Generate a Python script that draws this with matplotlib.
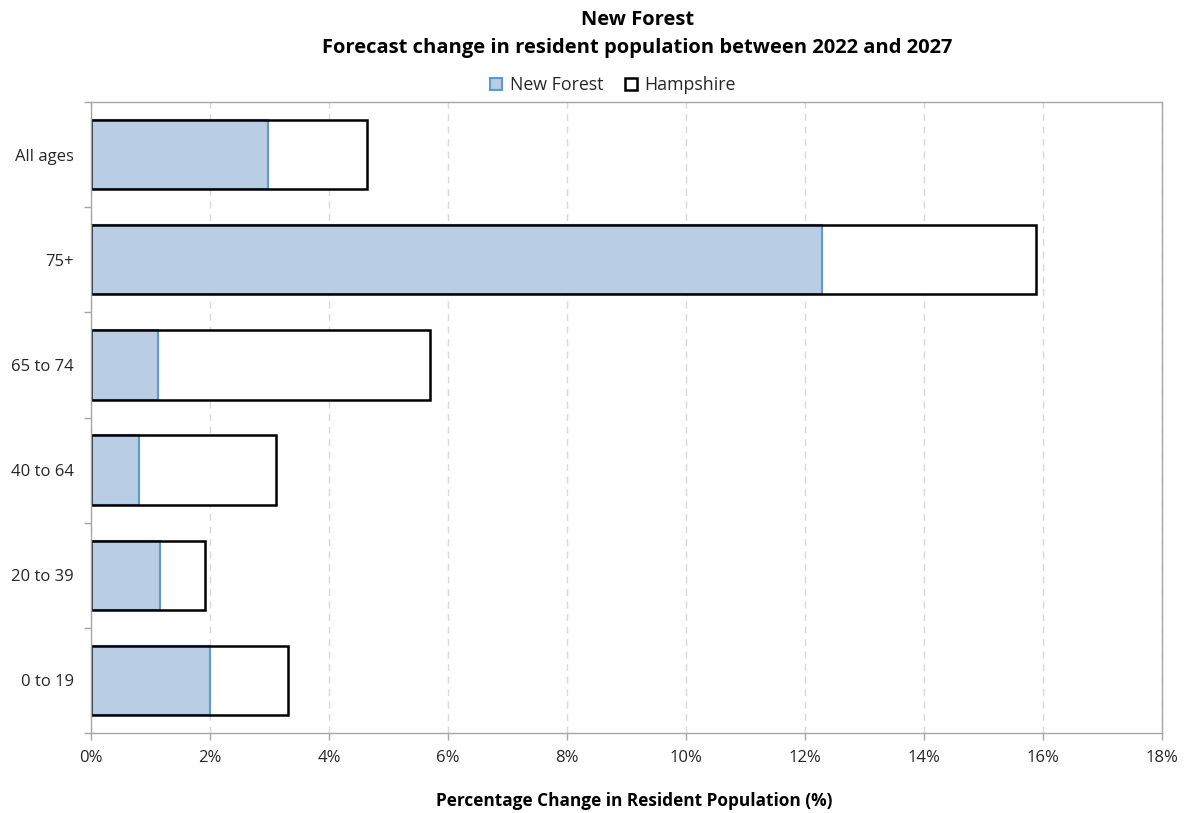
import matplotlib
matplotlib.use("Agg")
import matplotlib.pyplot as plt
from matplotlib.lines import Line2D
from matplotlib.ticker import FuncFormatter, FixedLocator
import numpy as np

plt.rcParams['font.family'] = ['Open Sans', 'DejaVu Sans']

categories = ["0 to 19", "20 to 39", "40 to 64", "65 to 74", "75+", "All ages"]
new_forest = [2.00, 1.16, 0.81, 1.13, 12.29, 2.97]
hampshire = [3.31, 1.92, 3.11, 5.70, 15.88, 4.64]
x_ticks = [0, 2, 4, 6, 8, 10, 12, 14, 16, 18]

nf_fill = "#B9CDE5"
nf_edge = "#5B9BD5"
grid_col = "#D9D9D9"
axis_col = "#A6A6A6"

fig = plt.figure(figsize=(11.89, 8.13), dpi=100)
ax = fig.add_axes([0.0765, 0.0984, 0.9008, 0.7761])

y = np.arange(len(categories))
h = 0.66

# Hampshire bar body, New Forest bar on top, then Hampshire outline over both
ax.barh(y, hampshire, height=h, color="white", edgecolor="none", zorder=2)
ax.barh(y, new_forest, height=h, color=nf_fill, edgecolor=nf_edge, linewidth=1.5, zorder=3)
ax.barh(y, hampshire, height=h, color="none", edgecolor="black", linewidth=1.8, zorder=4)

ax.set_xlim(0, 18)
ax.set_ylim(-0.5, len(categories) - 0.5)
ax.xaxis.set_major_locator(FixedLocator(x_ticks))
ax.xaxis.set_major_formatter(FuncFormatter(lambda v, p: f"{v:.0f}%"))
ax.set_yticks(y)
ax.set_yticklabels(categories)
ax.yaxis.set_minor_locator(FixedLocator(np.arange(-0.5, len(categories), 1.0)))
ax.tick_params(axis='y', which='major', length=0, pad=12.5, labelsize=12)
ax.tick_params(axis='y', which='minor', length=5, color=axis_col, width=1)
ax.tick_params(axis='x', which='major', length=5, color=axis_col, width=1, labelsize=12, pad=7)
for lbl in ax.get_yticklabels() + ax.get_xticklabels():
    lbl.set_color("#262626")

ax.grid(axis='x', color=grid_col, linestyle=(0, (5, 4)), linewidth=1, zorder=0)
ax.set_axisbelow(True)
for s in ax.spines.values():
    s.set_color(axis_col)
    s.set_linewidth(1)
    s.set_zorder(5)

ax.set_xlabel("Percentage Change in Resident Population (%)", fontsize=12.4, fontweight='bold',
              color="#000000", va='center')
ax.xaxis.set_label_coords(0.507, -0.108)

title_x = 0.536
fig.text(title_x, 0.9755, "New Forest", ha='center', va='center', fontsize=14.5, fontweight='bold')
fig.text(title_x, 0.9405, "Forecast change in resident population between 2022 and 2027",
         ha='center', va='center', fontsize=14.5, fontweight='bold')

handles = [
    Line2D([], [], marker='s', linestyle='none', markersize=8, markerfacecolor=nf_fill,
           markeredgecolor=nf_edge, markeredgewidth=1.5, label="New Forest"),
    Line2D([], [], marker='s', linestyle='none', markersize=8, markerfacecolor="white",
           markeredgecolor="black", markeredgewidth=1.8, label="Hampshire"),
]
fig.legend(handles=handles, loc='center', bbox_to_anchor=(0.515, 0.8955), ncol=2, frameon=False,
           fontsize=12.8, handlelength=0.8, handletextpad=0.35, columnspacing=1.15,
           labelcolor="#262626")

fig.savefig("out.png", dpi=100)
